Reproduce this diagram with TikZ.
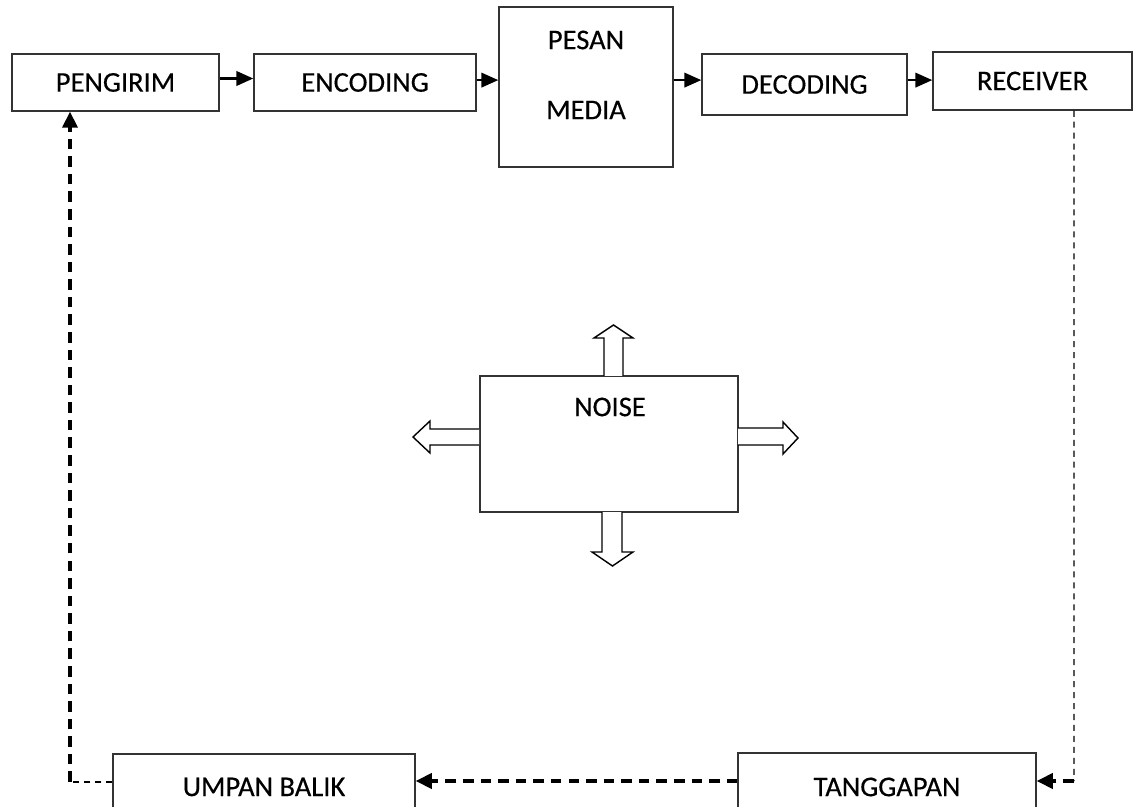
\documentclass[tikz,border=0pt]{standalone}
\usepackage{fontspec}
\setmainfont{Carlito}
\newfontfamily\diagfont{Carlito}[FakeBold=0.4]
\usetikzlibrary{arrows.meta}

\tikzset{
  box/.style={draw=black!80, line width=1pt, inner sep=0,
              font=\diagfont\fontsize{20.3}{24}\selectfont},
  lbl/.style={inner sep=0, font=\diagfont\fontsize{20.3}{24}\selectfont},
  flow arrow/.style={-{Triangle[length=0.42cm,width=0.36cm]}, line width=1.6pt},
  fb arrow/.style={-{Triangle[length=0.4cm,width=0.38cm]}, line width=2.3pt,
                   dash pattern=on 7.5pt off 5pt},
  fb line/.style={line width=0.9pt, dash pattern=on 4.3pt off 3.5pt},
  noise arrow/.style={draw, fill=white, line width=1pt, line join=miter},
}

\begin{document}
\begin{tikzpicture}[x=0.025cm, y=-0.025cm]
        % 1 unit = 0.025 cm, y grows downward
        % canvas 1139 x 807 units
        \clip (0,0) rectangle (1139,807);

        % ---- top row: sender to receiver ----
        \node[box, minimum width=5.175cm, minimum height=1.425cm] (pengirim) at (115.5, 82.5) {PENGIRIM};
        \node[box, minimum width=5.55cm,  minimum height=1.425cm] (encoding) at (365, 82.5)   {ENCODING};
        \node[box, minimum width=4.35cm,  minimum height=4.0cm]   (pesan)    at (586, 87)     {};
        \node[lbl] (pesanlbl) at (586, 40)  {PESAN};
        \node[lbl] (medialbl) at (586, 110) {MEDIA};
        \node[box, minimum width=5.125cm, minimum height=1.525cm] (decoding) at (804.5, 84.5) {DECODING};
        \node[box, minimum width=4.975cm, minimum height=1.45cm]  (receiver) at (1032.5, 81)  {RECEIVER};

        % arrows sit at y = 80, a little above the box centres
        \draw[flow arrow] ([yshift=0.1cm]pengirim.east) -- ([yshift=0.1cm]pengirim.east -| encoding.west);
        \draw[flow arrow] ([yshift=0.06cm]encoding.east) -- ([yshift=0.06cm]encoding.east -| pesan.west);
        \draw[flow arrow] ([yshift=0.11cm]decoding.west -| pesan.east) -- ([yshift=0.11cm]decoding.west);
        \draw[flow arrow] ([yshift=0.11cm]decoding.east) -- ([yshift=0.11cm]decoding.east -| receiver.west);

        % ---- noise in the middle ----
        \node[box, minimum width=6.45cm, minimum height=3.4cm] (noise) at (609, 444) {};
        \node[lbl] (noiselbl) at (610, 407) {NOISE};

        % block arrows out of the noise box
        \draw[noise arrow] (604,376) -- (604,338) -- (594,338) -- (613.5,325) -- (633,338) -- (623,338) -- (623,376);
        \draw[noise arrow] (602,512) -- (602,552) -- (592,552) -- (612.5,566) -- (633,552) -- (622,552) -- (622,512);
        \draw[noise arrow] (479,429) -- (430,429) -- (430,421) -- (413,437) -- (430,453) -- (430,445) -- (479,445);
        \draw[noise arrow] (738,428) -- (783,428) -- (783,422) -- (798,438) -- (783,454) -- (783,445) -- (738,445);

        % ---- bottom row: feedback (runs past the lower edge) ----
        \node[box, minimum width=7.55cm, minimum height=1.65cm] (umpan)     at (264, 787) {UMPAN BALIK};
        \node[box, minimum width=7.45cm, minimum height=1.7cm]  (tanggapan) at (887, 787) {TANGGAPAN};

        \coordinate (rcorner) at (1074, 781);
        \coordinate (lcorner) at (70, 782);

        % receiver -> tanggapan -> umpan balik -> pengirim
        \draw[fb line]  ([xshift=1.0375cm]receiver.south) -- (rcorner);
        \draw[fb arrow] (rcorner) -- (rcorner -| tanggapan.east);
        \draw[fb arrow] (tanggapan.west |- rcorner) -- (umpan.east |- rcorner);
        \draw[fb line]  (umpan.west |- lcorner) -- (lcorner);
        \draw[fb arrow] (lcorner) -- (lcorner |- pengirim.south);
      \end{tikzpicture}
\end{document}
